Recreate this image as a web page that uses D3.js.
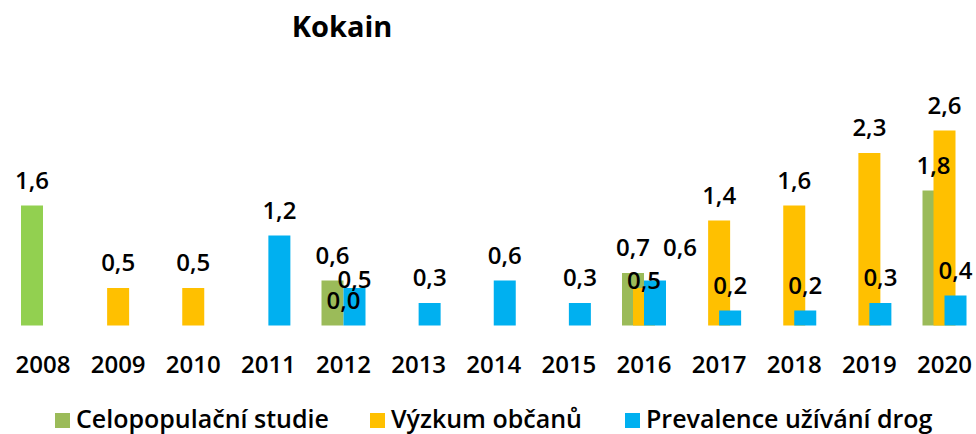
<!DOCTYPE html>
<html><head><meta charset="utf-8">
<script src="https://cdn.jsdelivr.net/npm/d3@7"></script>
<style>
html,body{margin:0;padding:0;background:#fff;}
svg text{font-family:"Open Sans","Noto Sans",sans-serif;font-weight:600;fill:#000;}
</style></head>
<body>
<script>
const title = "Kokain";
const years = ["2008","2009","2010","2011","2012","2013","2014","2015","2016","2017","2018","2019","2020"];
const seriesNames = ["Celopopulační studie","Výzkum občanů","Prevalence užívání drog"];
const celopopulacni = [1.6, null, null, null, 0.6, null, null, null, 0.7, null, null, null, 1.8];
const vyzkumObcanu  = [null, 0.5, 0.5, null, 0.0, null, null, null, 0.5, 1.4, 1.6, 2.3, 2.6];
const prevalence    = [null, null, null, 1.2, 0.5, 0.3, 0.6, 0.3, 0.6, 0.2, 0.2, 0.3, 0.4];

const seriesValues = [celopopulacni, vyzkumObcanu, prevalence];
const colors = ["#9BBB59", "#FFC000", "#00B0F0"];
// point-specific colour (2008 bar is drawn in a lighter green)
const pointColor = {"0-2008": "#92D050"};
// manual label nudges as in the original
const labelShift = {"2-2012": [0, 17], "1-2016": [0, 18], "2-2016": [25, -8]};

const W = 976, H = 434;
const svg = d3.select("body").append("svg").attr("width", W).attr("height", H);

const step = 75.125;
const x = d3.scaleBand().domain(years).range([43 - step/2, 43 - step/2 + step*years.length]).paddingInner(0).paddingOuter(0);
const y = d3.scaleLinear().domain([0, 2.8]).range([325.5, 115.5]);
const barW = 22;
const offsets = [-11, 0, 11];

svg.append("text").attr("x", 342).attr("y", 37).attr("text-anchor", "middle")
  .style("font-size", "29px").style("font-weight", 700).text(title);

seriesValues.forEach((vals, s) => {
  const g = svg.append("g");
  const data = years.map((yr, i) => ({yr, v: vals[i], s})).filter(d => d.v !== null);
  g.selectAll("rect").data(data).join("rect")
    .attr("x", d => x(d.yr) + x.bandwidth()/2 + offsets[s] - barW/2)
    .attr("width", barW)
    .attr("y", d => y(d.v))
    .attr("height", d => y(0) - y(d.v))
    .attr("fill", d => pointColor[s + "-" + d.yr] || colors[s]);
});

seriesValues.forEach((vals, s) => {
  const data = years.map((yr, i) => ({yr, v: vals[i], s})).filter(d => d.v !== null);
  svg.append("g").selectAll("text").data(data).join("text")
    .attr("x", d => x(d.yr) + x.bandwidth()/2 + offsets[s] + (labelShift[s+"-"+d.yr]||[0,0])[0])
    .attr("y", d => y(d.v) - 17 + (labelShift[s+"-"+d.yr]||[0,0])[1])
    .attr("text-anchor", "middle")
    .style("font-size", "24px")
    .text(d => d3.format(".1f")(d.v).replace(".", ","));
});

const xAxis = d3.axisBottom(x).tickSize(0).tickPadding(0);
const ax = svg.append("g").attr("transform", "translate(0,355)").call(xAxis);
ax.select(".domain").remove();
ax.selectAll("text").style("font-size", "24px").attr("dy", "0.76em")
  .style("font-family", "'Open Sans','Noto Sans',sans-serif").style("font-weight", 600).attr("fill", "#000");

const legendX = [55, 370, 625];
const lg = svg.append("g");
seriesNames.forEach((n, s) => {
  lg.append("rect").attr("x", legendX[s]).attr("y", 413).attr("width", 15).attr("height", 15).attr("fill", colors[s]);
  lg.append("text").attr("x", legendX[s] + 21).attr("y", 428).style("font-size", "25px").text(n);
});
</script>
</body></html>
